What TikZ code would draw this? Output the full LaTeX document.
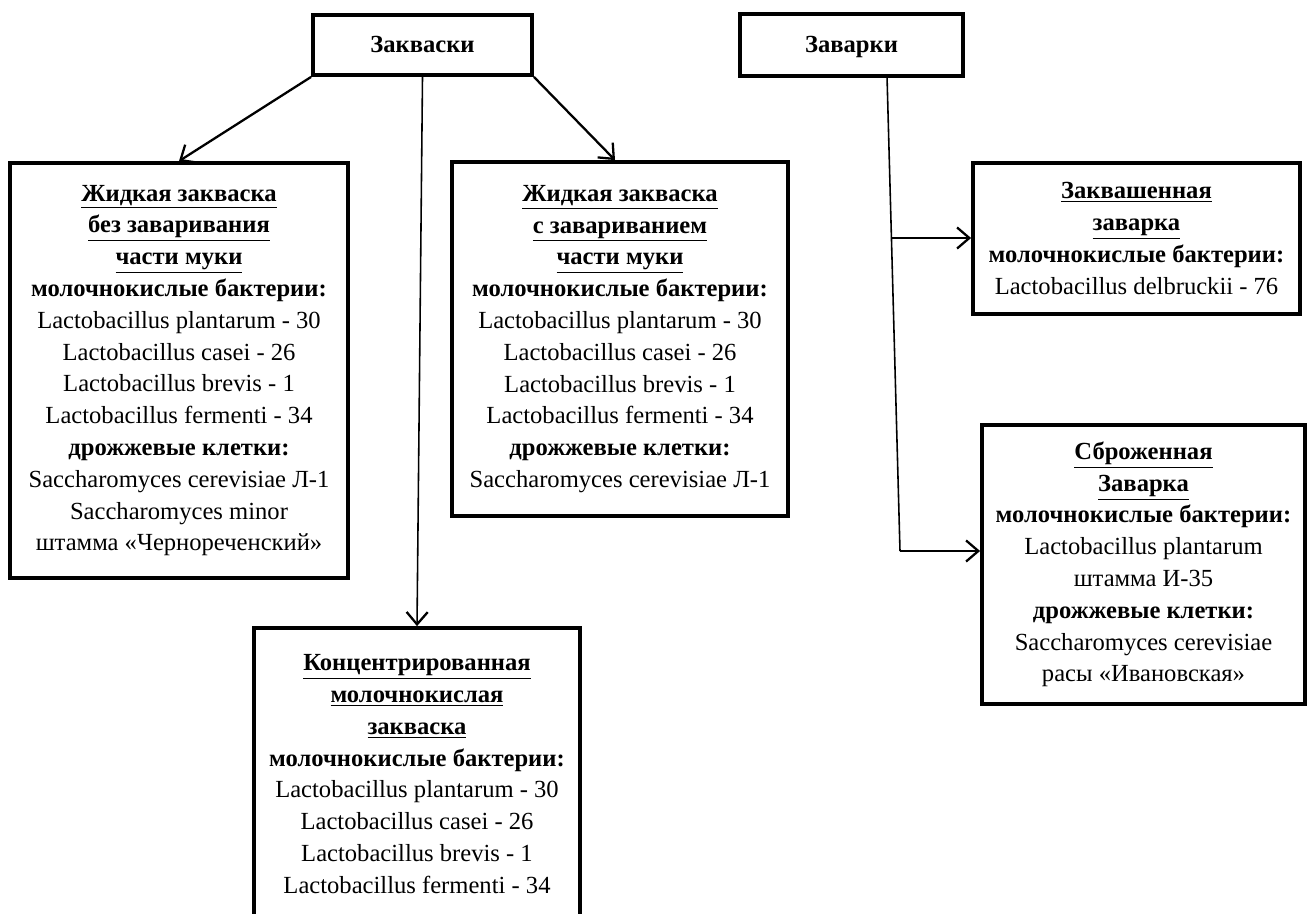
\documentclass[tikz,border=0pt]{standalone}
\usepackage{fontspec}
\setmainfont{Liberation Serif}
\usetikzlibrary{arrows.meta,positioning}

\begin{document}
\begin{tikzpicture}[y=-0.02cm,x=0.02cm,
	box/.style={draw, line width=2.2pt, align=center, inner sep=0pt, font=\fontsize{14}{18.1}\selectfont},
	head/.style={box, text height=10pt, text depth=2pt},
	link/.style={line width=1.3pt, -{Straight Barb[length=7pt,width=12pt,line width=1.3pt]}},
	stem/.style={line width=0.9pt}]
	\newcommand\Hd[1]{\underline{\textbf{#1}}}
	\useasboundingbox (0,0) rectangle (1308,913);

	% top level
	\node[head, minimum width=4.38cm, minimum height=1.2cm] (zakv) at (422.5,45) {\textbf{Закваски}};
	\node[head, minimum width=4.46cm, minimum height=1.24cm] (zav) at (851.5,45) {\textbf{Заварки}};

	% starters
	\node[box, minimum width=6.76cm, minimum height=8.3cm] (liq) at (179,370.5) {
		\Hd{Жидкая закваска}\\ \Hd{без заваривания}\\ \Hd{части муки}\\
		\textbf{молочнокислые бактерии:}\\
		Lactobacillus plantarum - 30\\ Lactobacillus casei - 26\\
		Lactobacillus brevis - 1\\ Lactobacillus fermenti - 34\\
		\textbf{дрожжевые клетки:}\\
		Saccharomyces cerevisiae Л-1\\ Saccharomyces minor\\
		штамма «Чернореченский»};
	\node[box, minimum width=6.72cm, minimum height=7.08cm] (liqb) at (620,339) {
		\Hd{Жидкая закваска}\\ \Hd{с завариванием}\\ \Hd{части муки}\\
		\textbf{молочнокислые бактерии:}\\
		Lactobacillus plantarum - 30\\ Lactobacillus casei - 26\\
		Lactobacillus brevis - 1\\ Lactobacillus fermenti - 34\\
		\textbf{дрожжевые клетки:}\\
		Saccharomyces cerevisiae Л-1};
	\node[box, minimum width=6.52cm, minimum height=5.84cm] (conc) at (417,774) {
		\Hd{Концентрированная}\\ \Hd{молочнокислая}\\ \Hd{закваска}\\
		\textbf{молочнокислые бактерии:}\\
		Lactobacillus plantarum - 30\\ Lactobacillus casei - 26\\
		Lactobacillus brevis - 1\\ Lactobacillus fermenti - 34};

	% brews
	\node[box, minimum width=6.54cm, minimum height=3.02cm] (sour) at (1136.5,238.5) {
		\Hd{Заквашенная}\\ \Hd{заварка}\\
		\textbf{молочнокислые бактерии:}\\
		Lactobacillus delbruckii - 76};
	\node[box, minimum width=6.46cm, minimum height=5.58cm] (ferm) at (1143.5,564.5) {
		\Hd{Сброженная}\\ \Hd{Заварка}\\
		\textbf{молочнокислые бактерии:}\\
		Lactobacillus plantarum\\ штамма И-35\\
		\textbf{дрожжевые клетки:}\\
		Saccharomyces cerevisiae\\ расы «Ивановская»};

	\coordinate (zt) at (887,76);
	\coordinate (j1) at (891.4,238);
	\coordinate (j2) at (900,551);

	\draw[link] (zakv.south west) -- (liq.north);
	\draw[link] (zakv.south east) -- (liqb.north -| 615,0);
	\draw[stem, -{Straight Barb[length=7pt,width=12pt,line width=1.3pt]}] (zakv.south) -- (conc.north);
	\draw[stem] (zt) -- (j2);
	\draw[link] (j1) -- (sour.west |- j1);
	\draw[link] (j2) -- (ferm.west |- j2);
\end{tikzpicture}
\end{document}
